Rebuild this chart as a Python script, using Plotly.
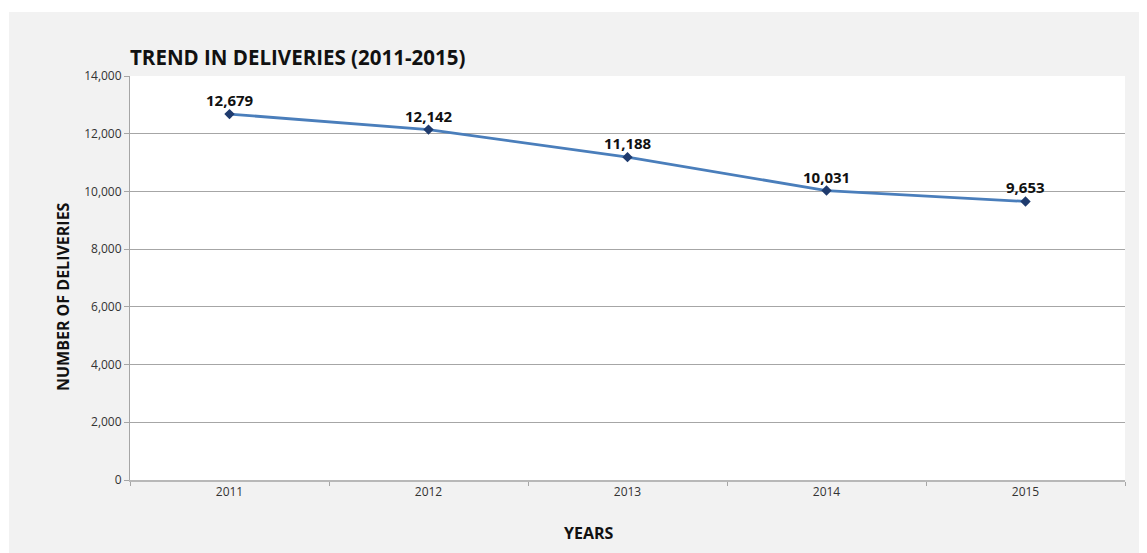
import plotly.graph_objects as go

years = ["2011", "2012", "2013", "2014", "2015"]
deliveries = [12679, 12142, 11188, 10031, 9653]
labels = ["12,679", "12,142", "11,188", "10,031", "9,653"]
y_ticks = [0, 2000, 4000, 6000, 8000, 10000, 12000, 14000]

# page has an 8px body margin, so the figure is 8px smaller than the window
W, H = 1139, 545
L, R, T, B = 122, 22, 68, 73
PW, PH = W - L - R, H - T - B


def px(fx):
    return (fx - L) / PW


def py(fy):
    return (H - B - fy) / PH


fig = go.Figure()
fig.add_trace(go.Scatter(
    x=years, y=deliveries, mode="lines+markers",
    line=dict(color="#4a7ebb", width=2.8),
    marker=dict(symbol="diamond", size=8, color="#1f3b6e"),
    cliponaxis=False, showlegend=False,
))

# data labels; category axis positions are the category indices
for i, (val, lab) in enumerate(zip(deliveries, labels)):
    fig.add_annotation(x=i, y=val, xref="x", yref="y", text="<b>" + lab + "</b>",
                       showarrow=False, xanchor="center", yanchor="bottom", yshift=2,
                       font=dict(family="Open Sans", size=15, color="#111111"))

# gray panel background
fig.add_shape(type="rect", xref="paper", yref="paper",
              x0=px(1), x1=px(W), y0=py(H), y1=py(4),
              fillcolor="#f2f2f2", line=dict(width=0), layer="below")
fig.add_shape(type="rect", xref="paper", yref="paper", x0=0, x1=1, y0=0, y1=1,
              fillcolor="white", line=dict(width=0), layer="below")

fig.add_annotation(text="<b>YEARS</b>", xref="paper", yref="paper",
                   x=px(581), y=py(525), xanchor="center", yanchor="middle",
                   showarrow=False, font=dict(family="Open Sans", size=16, color="#111111"))
fig.add_annotation(text="<b>NUMBER OF DELIVERIES</b>", xref="paper", yref="paper",
                   x=px(55), y=py(289), xanchor="center", yanchor="middle", textangle=-90,
                   showarrow=False, font=dict(family="Open Sans", size=16, color="#111111"))

fig.update_layout(
    width=W, height=H,
    margin=dict(l=L, r=R, t=T, b=B),
    paper_bgcolor="white", plot_bgcolor="rgba(0,0,0,0)",
    font=dict(family="Open Sans", color="#222222"),
    title=dict(text="<b>TREND IN DELIVERIES (2011-2015)</b>", x=L / W, xanchor="left",
               y=1 - 50 / H, yanchor="middle",
               font=dict(family="Open Sans", size=20.5, color="#111111")),
    xaxis=dict(
        type="category", range=[-0.5, 4.5],
        tickson="boundaries", ticks="outside", ticklen=4, tickcolor="#a6a6a6",
        showgrid=False, showline=True, linecolor="#b8b8b8", linewidth=2,
        tickfont=dict(size=12, color="#333333"),
    ),
    yaxis=dict(
        range=[0, 14000], tickvals=y_ticks, tickformat=",",
        ticks="outside", ticklen=5, tickcolor="#a6a6a6",
        showgrid=True, gridcolor="#a6a6a6", gridwidth=1,
        showline=True, linecolor="#a6a6a6", linewidth=1,
        zeroline=False,
        tickfont=dict(size=12, color="#333333"),
    ),
)

fig.write_html("out.html")
